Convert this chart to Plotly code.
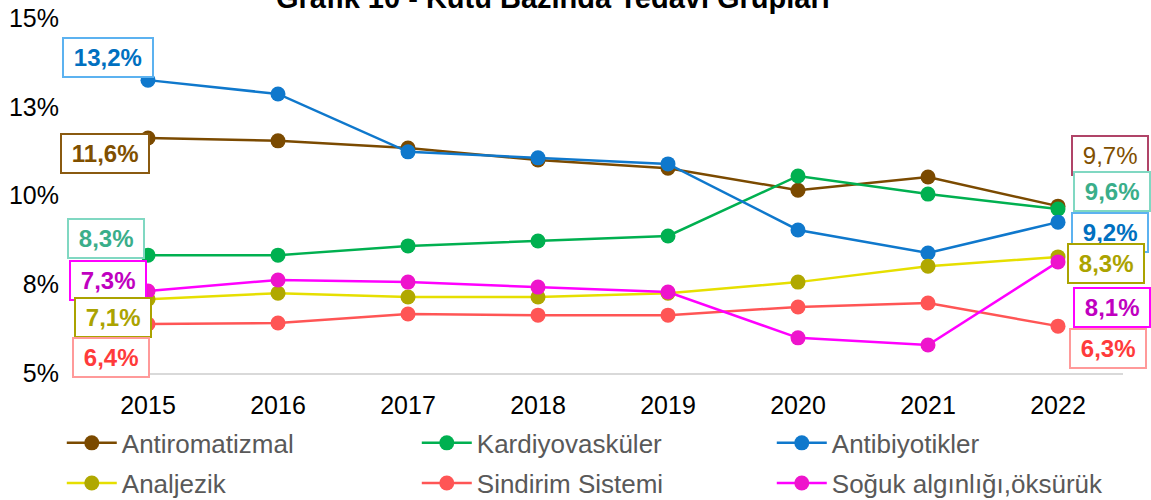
import plotly.graph_objects as go

years = ['2015', '2016', '2017', '2018', '2019', '2020', '2021', '2022']

antiromatizmal = [11.62, 11.54, 11.34, 11.0, 10.77, 10.15, 10.52, 9.70]
kardiyovaskuler = [8.32, 8.32, 8.58, 8.72, 8.86, 10.55, 10.04, 9.62]
antibiyotikler = [13.25, 12.86, 11.23, 11.06, 10.89, 9.03, 8.38, 9.25]
analjezik = [7.08, 7.25, 7.14, 7.14, 7.25, 7.56, 8.01, 8.27]
sindirim = [6.38, 6.41, 6.66, 6.63, 6.63, 6.86, 6.97, 6.32]
soguk = [7.31, 7.62, 7.56, 7.42, 7.28, 5.99, 5.79, 8.13]

ytick_vals = [5, 7.5, 10, 12.5, 15]
ytick_text = ['5%', '8%', '10%', '13%', '15%']

FONT = 'Liberation Sans, Arial, sans-serif'

# name, values, line colour, marker colour, legend
series = [
    ('Antiromatizmal', antiromatizmal, '#7B4A00', '#7B4A00', 'legend'),
    ('Kardiyovasküler', kardiyovaskuler, '#00B050', '#00B050', 'legend'),
    ('Antibiyotikler', antibiyotikler, '#0F78CC', '#0F78CC', 'legend'),
    ('Analjezik', analjezik, '#E6DF00', '#B0A800', 'legend2'),
    ('Sindirim Sistemi', sindirim, '#FF5555', '#FF5555', 'legend2'),
    ('Soğuk algınlığı,öksürük', soguk, '#FF00FF', '#EE14CC', 'legend2'),
]

fig = go.Figure()
for name, vals, lc, mc, lg in series:
    fig.add_trace(go.Scatter(
        x=years, y=vals, name=name, mode='lines+markers',
        line=dict(color=lc, width=2.5),
        marker=dict(color=mc, size=15),
        legend=lg,
    ))

# data labels: (series index, point index, dx, dy, text colour, border colour, bold)
labels = [
    (2, 0, -40, 23, '#0070C0', '#5CB2F0', True),
    (0, 0, -43, -16, '#7F4F00', '#8A5A10', True),
    (1, 0, -42, 17, '#3AAE8A', '#80D8C2', True),
    (5, 0, -40, 11, '#C000C0', '#FF00FF', True),
    (3, 0, -35, -18, '#ABA300', '#ABA300', True),
    (4, 0, -37, -33, '#FF3B3B', '#FF9A9A', True),
    (0, 7, 52, 51, '#7F4F00', '#B04468', False),
    (1, 7, 54, 17, '#3AAE8A', '#80D8C2', True),
    (2, 7, 52, -10, '#0070C0', '#5CB2F0', True),
    (3, 7, 48, -7, '#ABA300', '#ABA300', True),
    (5, 7, 54, -46, '#C000C0', '#FF00FF', True),
    (4, 7, 50, -22, '#FF3B3B', '#FF9A9A', True),
]
for si, pi, dx, dy, tc, bc, bold in labels:
    v = series[si][1][pi]
    txt = ('%.1f%%' % v).replace('.', ',')
    if bold:
        txt = '<b>' + txt + '</b>'
    fig.add_annotation(
        x=pi, y=v, xref='x', yref='y', text='\u2009' + txt + '\u2009',
        showarrow=False, xshift=dx, yshift=dy,
        font=dict(family=FONT, size=24, color=tc),
        bgcolor='white', bordercolor=bc, borderwidth=2, borderpad=5,
    )

# title is clipped at the top in the original
fig.add_annotation(
    x=0.452, y=1.056, xref='paper', yref='paper', showarrow=False,
    text='<b>Grafik 10 - Kutu Bazında Tedavi Grupları</b>',
    font=dict(family=FONT, size=29, color='black'),
    xanchor='center', yanchor='middle',
)

fig.update_layout(
    width=1151, height=500,
    margin=dict(l=83, r=28, t=18, b=127, autoexpand=False),
    plot_bgcolor='white', paper_bgcolor='white',
    font=dict(family=FONT, size=25, color='black'),
    xaxis=dict(type='category', range=[-0.5, 7.5], showgrid=False,
               showline=True, linecolor='#D9D9D9', linewidth=2,
               ticks='', ticklabelstandoff=9,
               tickfont=dict(size=25, color='black')),
    yaxis=dict(range=[5, 15], tickvals=ytick_vals, ticktext=ytick_text,
               showgrid=False, zeroline=False, showline=False, ticks='',
               ticklabelstandoff=23, ticklabeloverflow='allow',
               tickfont=dict(size=25, color='black')),
    legend=dict(orientation='h', x=-0.0204, xanchor='left', y=-0.197, yanchor='middle',
                entrywidth=290, font=dict(size=26, color='#595959'),
                itemwidth=50, bgcolor='rgba(0,0,0,0)'),
    legend2=dict(orientation='h', x=-0.0204, xanchor='left', y=-0.310, yanchor='middle',
                 entrywidth=290, font=dict(size=26, color='#595959'),
                 itemwidth=50, bgcolor='rgba(0,0,0,0)'),
    showlegend=True,
)

fig.write_html("out.html", config={'displayModeBar': False},
               post_script="document.body.style.margin='0';")
